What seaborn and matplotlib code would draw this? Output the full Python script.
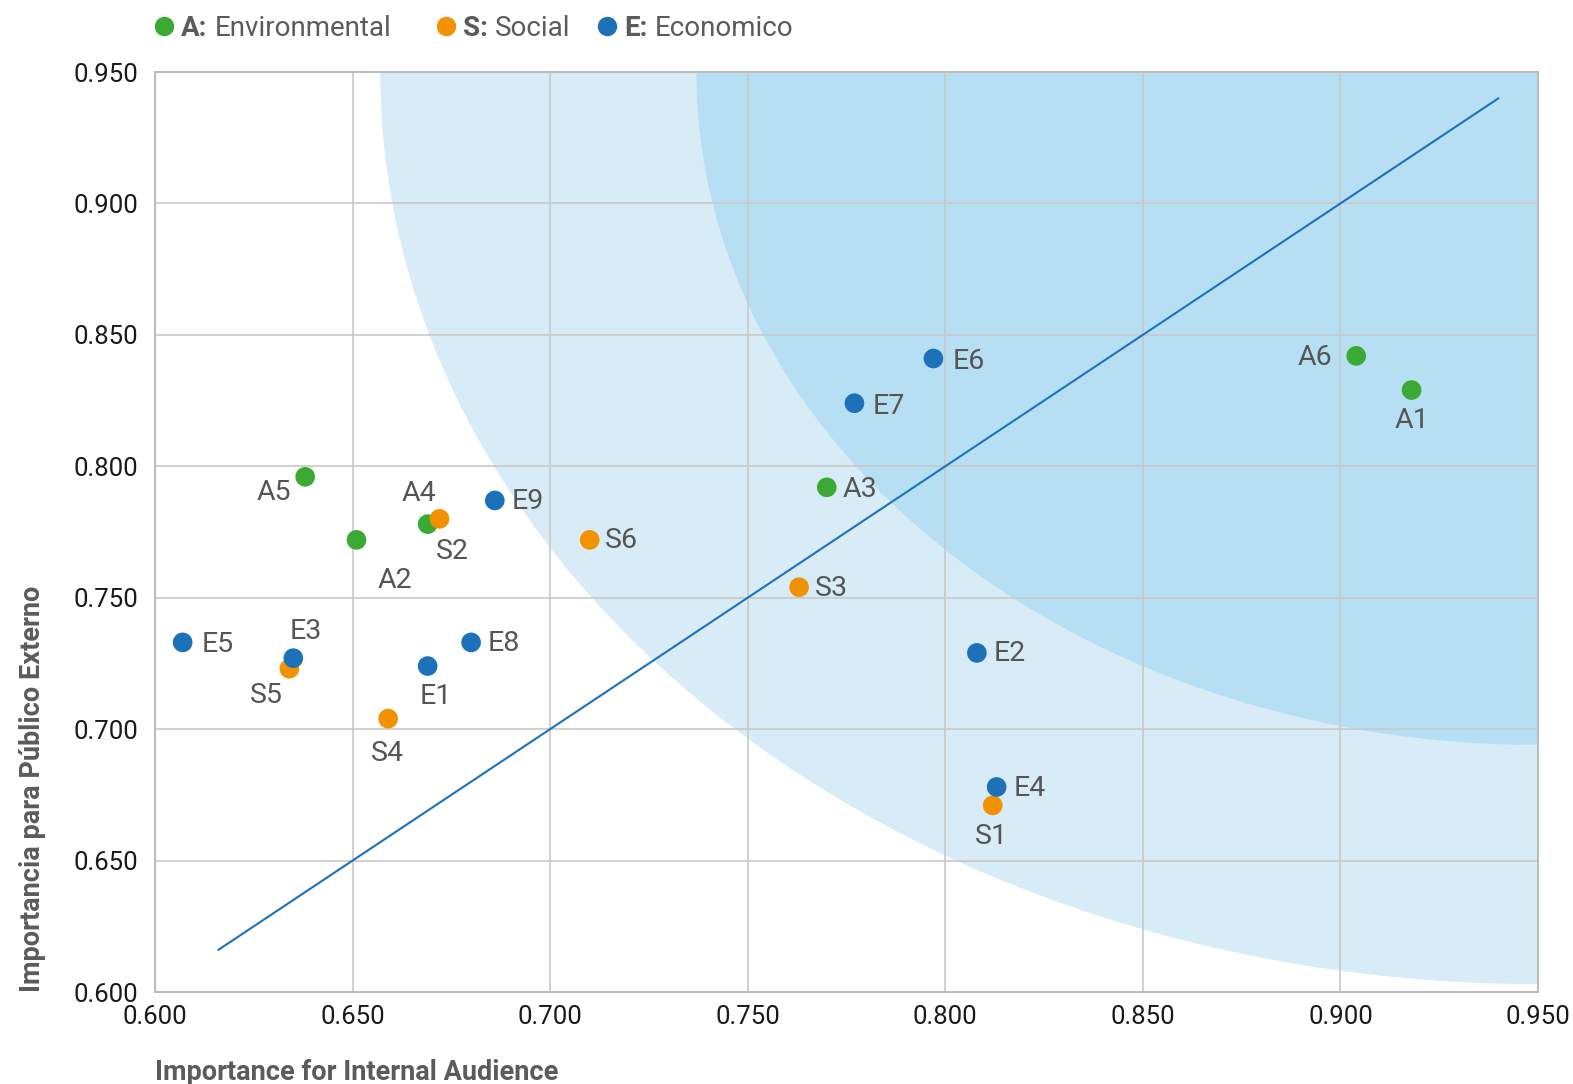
import matplotlib
matplotlib.use("Agg")
import matplotlib.pyplot as plt
from matplotlib.patches import Ellipse
from matplotlib.lines import Line2D
import seaborn as sns
import pandas as pd

# ---- data -------------------------------------------------------------
codes = ["A1", "A2", "A3", "A4", "A5", "A6",
         "S1", "S2", "S3", "S4", "S5", "S6",
         "E1", "E2", "E3", "E4", "E5", "E6", "E7", "E8", "E9"]
internal = [0.918, 0.651, 0.770, 0.669, 0.638, 0.904,
            0.812, 0.672, 0.763, 0.659, 0.634, 0.710,
            0.669, 0.808, 0.635, 0.813, 0.607, 0.797, 0.777, 0.680, 0.686]
external = [0.829, 0.772, 0.792, 0.778, 0.796, 0.842,
            0.671, 0.780, 0.754, 0.704, 0.723, 0.772,
            0.724, 0.729, 0.727, 0.678, 0.733, 0.841, 0.824, 0.733, 0.787]
groups = ["A"] * 6 + ["S"] * 6 + ["E"] * 9

group_keys = ["A", "S", "E"]
group_names = {"A": "Environmental", "S": "Social", "E": "Economico"}
group_colors = {"A": "#3aaa35", "S": "#f39200", "E": "#1d71b8"}

x_ticks = [0.600, 0.650, 0.700, 0.750, 0.800, 0.850, 0.900, 0.950]
y_ticks = [0.600, 0.650, 0.700, 0.750, 0.800, 0.850, 0.900, 0.950]

# reference diagonal (internal == external)
diag = [0.616, 0.940]

# priority zones: elliptical bands anchored at the top-right corner
zone_center = (0.950, 0.950)
zone_outer = (0.293, 0.347)   # semi-axes (x, y)
zone_inner = (0.213, 0.256)

# label offsets in pixels (dx, dy) for each point
label_offsets = {
    "A1": (0, -30), "A2": (38, -41), "A3": (33, -2), "A4": (-9, 31),
    "A5": (-31, -16), "A6": (-41, -2),
    "S1": (-1, -31), "S2": (13, -33), "S3": (32, -1), "S4": (-1, -35),
    "S5": (-23, -27), "S6": (32, -1),
    "E1": (8, -30), "E2": (33, -1), "E3": (12, 27), "E4": (33, -2),
    "E5": (35, -2), "E6": (35, -3), "E7": (34, -3), "E8": (33, -1),
    "E9": (33, -1),
}

df = pd.DataFrame({"code": codes, "internal": internal,
                   "external": external, "group": groups})

# ---- style ------------------------------------------------------------
sns.set_theme(style="white")
plt.rcParams["font.family"] = ["Roboto", "DejaVu Sans"]

W, H = 1573, 1084
fig = plt.figure(figsize=(W / 100, H / 100), dpi=100)
ax = fig.add_axes([155 / W, 1 - 992 / H, (1538 - 155) / W, (992 - 72) / H])

ax.add_patch(Ellipse(zone_center, 2 * zone_outer[0], 2 * zone_outer[1],
                     facecolor="#d7ecf7", edgecolor="none", zorder=0.1))
ax.add_patch(Ellipse(zone_center, 2 * zone_inner[0], 2 * zone_inner[1],
                     facecolor="#b7dff3", edgecolor="none", zorder=0.2))

ax.plot(diag, diag, color="#1d71b8", lw=1.5, zorder=2)

sns.scatterplot(data=df, x="internal", y="external", hue="group",
                palette=group_colors, s=200, edgecolor="none",
                legend=False, zorder=3, ax=ax)

for c, xv, yv in zip(codes, internal, external):
    dx, dy = label_offsets[c]
    ax.annotate(c, (xv, yv), xytext=(dx, dy), textcoords="offset pixels",
                ha="center", va="center", fontsize=20.5, color="#555555",
                zorder=4)

ax.set_xlim(0.600, 0.950)
ax.set_ylim(0.600, 0.950)
ax.set_xticks(x_ticks)
ax.set_yticks(y_ticks)
ax.set_xticklabels([f"{v:.3f}" for v in x_ticks])
ax.set_yticklabels([f"{v:.3f}" for v in y_ticks])
ax.tick_params(axis="both", length=0, labelsize=18.5, labelcolor="#1a1a1a")
ax.tick_params(axis="x", pad=9)
ax.tick_params(axis="y", pad=12)

ax.set_axisbelow(True)
ax.grid(True, color="#c8c8c8", lw=1.2)
for s in ax.spines.values():
    s.set_color("#bdbdbd")
    s.set_linewidth(1.5)

ax.set_xlabel("Importance for Internal Audience", loc="left",
              fontsize=19.5, fontweight="bold", color="#5b5b5b", labelpad=22)
ax.set_ylabel("Importancia para Público Externo", loc="bottom",
              fontsize=19.5, fontweight="bold", color="#5b5b5b", labelpad=20)

# legend row: coloured dot, bold key, plain name
renderer = fig.canvas.get_renderer()
legend_x = [164, 446, 607]
legend_y = 1 - 26 / H
for g, px in zip(group_keys, legend_x):
    fig.add_artist(Line2D([px / W], [legend_y], marker="o", ls="",
                          ms=14, markeredgewidth=0,
                          color=group_colors[g], transform=fig.transFigure))
    key = fig.text((px + 17) / W, legend_y, f"{g}:", fontsize=20,
                   fontweight="bold", color="#5b5b5b",
                   ha="left", va="center_baseline")
    bb = key.get_window_extent(renderer)
    fig.text((bb.x1 + 7) / W, legend_y, group_names[g], fontsize=20,
             color="#5b5b5b", ha="left", va="center_baseline")

fig.savefig("out.png", dpi=100)
